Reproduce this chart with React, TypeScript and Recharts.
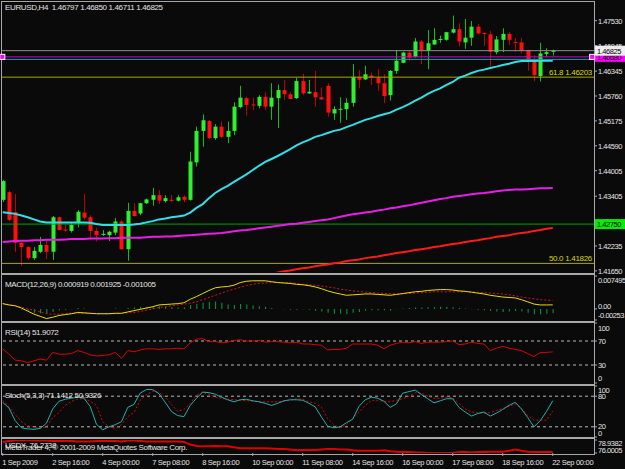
import React from 'react';
import { ComposedChart, Bar, Line, XAxis, YAxis, ReferenceLine, ReferenceDot } from 'recharts';

// ---------- DATA ----------
const barIndex = Array.from({ length: 89 }, (_, i) => i);

const opens = [
  1.4332, 1.4350, 1.4303, 1.4231, 1.4221, 1.4195, 1.4210, 1.4226, 1.4210, 1.4291,
  1.4262, 1.4259, 1.4277, 1.4302, 1.4291, 1.4259, 1.4251, 1.4249, 1.4255, 1.4281,
  1.4216, 1.4306, 1.4300, 1.4324, 1.4332, 1.4343, 1.4329, 1.4332, 1.4330, 1.4339,
  1.4332, 1.4420, 1.4494, 1.4517, 1.4477, 1.4504, 1.4480, 1.4494, 1.4550, 1.4571,
  1.4556, 1.4553, 1.4574, 1.4551, 1.4571, 1.4590, 1.4580, 1.4571, 1.4611, 1.4582,
  1.4585, 1.4573, 1.4600, 1.4535, 1.4545, 1.4545, 1.4560, 1.4621, 1.4615, 1.4624,
  1.4619, 1.4606, 1.4578, 1.4635, 1.4654, 1.4678, 1.4668, 1.4704, 1.4682, 1.4697,
  1.4708, 1.4708, 1.4725, 1.4733, 1.4702, 1.4713, 1.4739, 1.4724, 1.4721, 1.4679,
  1.4708, 1.4722, 1.4703, 1.4702, 1.4684, 1.4662, 1.4623, 1.4675, 1.46797,
];
const highs = [
  1.4379, 1.4353, 1.4346, 1.4233, 1.4224, 1.4221, 1.4245, 1.4240, 1.4294, 1.4293,
  1.4273, 1.4278, 1.4308, 1.4346, 1.4296, 1.4266, 1.4261, 1.4259, 1.4289, 1.4285,
  1.4325, 1.4324, 1.4325, 1.4335, 1.4360, 1.4355, 1.4343, 1.4343, 1.4343, 1.4343,
  1.4445, 1.4504, 1.4533, 1.4520, 1.4510, 1.4516, 1.4516, 1.4561, 1.4600, 1.4574,
  1.4572, 1.4578, 1.4585, 1.4606, 1.4603, 1.4614, 1.4585, 1.4619, 1.4628, 1.4614,
  1.4635, 1.4596, 1.4606, 1.4552, 1.4573, 1.4571, 1.4651, 1.4637, 1.4647, 1.4631,
  1.4639, 1.4627, 1.4637, 1.4684, 1.4680, 1.4682, 1.4712, 1.4708, 1.4731, 1.4735,
  1.4718, 1.4727, 1.4765, 1.4747, 1.4757, 1.4752, 1.4745, 1.4726, 1.4729, 1.4717,
  1.4735, 1.4726, 1.4712, 1.4712, 1.4685, 1.4672, 1.4701, 1.4688, 1.46850,
];
const lows = [
  1.4327, 1.4282, 1.4209, 1.4177, 1.4191, 1.4191, 1.4207, 1.4193, 1.4191, 1.4260,
  1.4257, 1.4255, 1.4267, 1.4285, 1.4238, 1.4234, 1.4247, 1.4235, 1.4249, 1.4214,
  1.4189, 1.4293, 1.4296, 1.4322, 1.4318, 1.4322, 1.4326, 1.4326, 1.4328, 1.4326,
  1.4330, 1.4410, 1.4457, 1.4475, 1.4473, 1.4477, 1.4465, 1.4484, 1.4547, 1.4530,
  1.4543, 1.4547, 1.4543, 1.4520, 1.4501, 1.4567, 1.4568, 1.4569, 1.4578, 1.4581,
  1.4551, 1.4567, 1.4527, 1.4520, 1.4513, 1.4520, 1.4551, 1.4594, 1.4614, 1.4602,
  1.4588, 1.4559, 1.4565, 1.4628, 1.4653, 1.4659, 1.4666, 1.4651, 1.4639, 1.4696,
  1.4701, 1.4706, 1.4723, 1.4692, 1.4687, 1.4694, 1.4721, 1.4694, 1.4645, 1.4674,
  1.4679, 1.4696, 1.4680, 1.4676, 1.4635, 1.4611, 1.4610, 1.4668, 1.46711,
];
const closes = [
  1.4376, 1.4285, 1.4231, 1.4221, 1.4195, 1.4212, 1.4226, 1.4210, 1.4291, 1.4261,
  1.4260, 1.4273, 1.4304, 1.4290, 1.4259, 1.4249, 1.4252, 1.4257, 1.4281, 1.4216,
  1.4306, 1.4294, 1.4324, 1.4333, 1.4343, 1.4330, 1.4336, 1.4331, 1.4338, 1.4332,
  1.4422, 1.4494, 1.4519, 1.4477, 1.4504, 1.4480, 1.4494, 1.4551, 1.4572, 1.4555,
  1.4554, 1.4574, 1.4551, 1.4572, 1.4590, 1.4580, 1.4569, 1.4611, 1.4582, 1.4586,
  1.4573, 1.4568, 1.4537, 1.4545, 1.4546, 1.4560, 1.4621, 1.4614, 1.4627, 1.4620,
  1.4606, 1.4576, 1.4635, 1.4659, 1.4678, 1.4666, 1.4704, 1.4682, 1.4700, 1.4708,
  1.4710, 1.4726, 1.4733, 1.4704, 1.4713, 1.4739, 1.4723, 1.4722, 1.4680, 1.4709,
  1.4722, 1.4708, 1.4701, 1.4682, 1.4661, 1.4625, 1.4676, 1.4679, 1.46825,
];
const maFast = [
  1.4303, 1.4301, 1.4299, 1.4295, 1.4291, 1.4286, 1.4281, 1.4279, 1.4279, 1.4279,
  1.4279, 1.4279, 1.4279, 1.4279, 1.4278, 1.4275, 1.4273, 1.4273, 1.4273, 1.4273,
  1.4273, 1.4274, 1.4276, 1.4279, 1.4282, 1.4286, 1.4288, 1.4291, 1.4293, 1.4295,
  1.4302, 1.4313, 1.4322, 1.4336, 1.4348, 1.4357, 1.4365, 1.4374, 1.4383, 1.4392,
  1.4402, 1.4412, 1.4421, 1.4428, 1.4435, 1.4443, 1.4451, 1.4460, 1.4467, 1.4473,
  1.4480, 1.4484, 1.4489, 1.4494, 1.4497, 1.4503, 1.4508, 1.4514, 1.4520, 1.4524,
  1.4529, 1.4533, 1.4537, 1.4544, 1.4550, 1.4557, 1.4565, 1.4572, 1.4581, 1.4588,
  1.4594, 1.4602, 1.4609, 1.4619, 1.4624, 1.4630, 1.4635, 1.4638, 1.4642, 1.4645,
  1.4649, 1.4652, 1.4656, 1.4658, 1.4658, 1.4658, 1.4659, 1.4659, 1.4659,
];
const maMid = [
  1.4233, 1.4234, 1.4235, 1.4236, 1.4236, 1.4237, 1.4237, 1.4238, 1.4238, 1.4238,
  1.4239, 1.4240, 1.4240, 1.4240, 1.4241, 1.4241, 1.4241, 1.4242, 1.4242, 1.4243,
  1.4243, 1.4243, 1.4243, 1.4244, 1.4245, 1.4245, 1.4246, 1.4246, 1.4247, 1.4248,
  1.4249, 1.4250, 1.4251, 1.4252, 1.4253, 1.4254, 1.4256, 1.4258, 1.4260, 1.4261,
  1.4263, 1.4265, 1.4267, 1.4269, 1.4271, 1.4273, 1.4275, 1.4276, 1.4278, 1.4280,
  1.4282, 1.4284, 1.4286, 1.4289, 1.4292, 1.4295, 1.4298, 1.4300, 1.4302, 1.4304,
  1.4307, 1.4309, 1.4312, 1.4314, 1.4317, 1.4319, 1.4322, 1.4325, 1.4328, 1.4331,
  1.4334, 1.4336, 1.4339, 1.4341, 1.4343, 1.4345, 1.4347, 1.4348, 1.4350, 1.4352,
  1.4354, 1.4355, 1.4356, 1.4356, 1.4357, 1.4358, 1.4359, 1.4359, 1.4360,
];
const maSlow = [
  null, null, null, null, null, null, null, null, null, null,
  null, null, null, null, null, null, null, null, null, null,
  null, null, null, null, null, null, null, null, null, null,
  null, null, null, null, null, null, null, null, null, null,
  1.4152, 1.4154, 1.4157, 1.4159, 1.4161, 1.4164, 1.4166, 1.4169, 1.4171, 1.4173,
  1.4176, 1.4178, 1.4180, 1.4183, 1.4185, 1.4188, 1.4190, 1.4192, 1.4195, 1.4197,
  1.4199, 1.4202, 1.4204, 1.4207, 1.4209, 1.4211, 1.4214, 1.4216, 1.4218, 1.4221,
  1.4223, 1.4226, 1.4228, 1.4230, 1.4233, 1.4235, 1.4237, 1.4240, 1.4242, 1.4245,
  1.4247, 1.4249, 1.4252, 1.4254, 1.4256, 1.4259, 1.4261, 1.4264, 1.4266,
];
const macdMain = [
  0.0012, 0.0009, 0.0007, 0.0002, -0.0005, -0.0012, -0.0017, -0.0022, -0.0019, -0.0015,
  -0.0013, -0.0011, -0.0008, -0.0009, -0.0010, -0.0011, -0.0011, -0.0011, -0.0010, -0.0010,
  -0.0007, -0.0004, -0.0001, 0.0002, 0.0005, 0.0009, 0.0010, 0.0011, 0.0012, 0.0014,
  0.0022, 0.0028, 0.0035, 0.0042, 0.0048, 0.0050, 0.0051, 0.0054, 0.0060, 0.0063,
  0.0064, 0.0064, 0.0064, 0.0062, 0.0060, 0.0059, 0.0058, 0.0056, 0.0055, 0.0053,
  0.0050, 0.0046, 0.0041, 0.0037, 0.0034, 0.0031, 0.0032, 0.0033, 0.0034, 0.0034,
  0.0033, 0.0032, 0.0031, 0.0033, 0.0035, 0.0037, 0.0039, 0.0040, 0.0042, 0.0043,
  0.0044, 0.0044, 0.0043, 0.0041, 0.0040, 0.0038, 0.0036, 0.0034, 0.0031, 0.0029,
  0.0027, 0.0026, 0.0025, 0.0021, 0.0016, 0.0011, 0.0009, 0.0009, 0.000919,
];
const macdSignal = [
  0.0012, 0.0010, 0.0007, 0.0004, 0.0000, -0.0003, -0.0007, -0.0011, -0.0012, -0.0012,
  -0.0011, -0.0010, -0.0010, -0.0010, -0.0010, -0.0011, -0.0011, -0.0011, -0.0011, -0.0010,
  -0.0009, -0.0008, -0.0006, -0.0003, 0.0000, 0.0003, 0.0005, 0.0007, 0.0009, 0.0011,
  0.0013, 0.0016, 0.0021, 0.0026, 0.0031, 0.0036, 0.0041, 0.0045, 0.0049, 0.0053,
  0.0056, 0.0058, 0.0059, 0.0060, 0.0060, 0.0060, 0.0060, 0.0058, 0.0056, 0.0055,
  0.0054, 0.0052, 0.0050, 0.0048, 0.0045, 0.0043, 0.0041, 0.0040, 0.0038, 0.0037,
  0.0036, 0.0035, 0.0035, 0.0034, 0.0034, 0.0035, 0.0036, 0.0037, 0.0038, 0.0039,
  0.0039, 0.0039, 0.0039, 0.0039, 0.0039, 0.0039, 0.0038, 0.0037, 0.0036, 0.0035,
  0.0034, 0.0032, 0.0030, 0.0027, 0.0025, 0.0023, 0.0021, 0.0020, 0.001925,
];
const macdHist = [
  0.0000, -0.0001, 0.0000, -0.0002, -0.0005, -0.0009, -0.0010, -0.0011, -0.0007, -0.0003,
  -0.0002, -0.0001, 0.0002, 0.0001, 0.0000, 0.0000, 0.0000, 0.0000, 0.0001, 0.0000,
  0.0002, 0.0004, 0.0005, 0.0005, 0.0005, 0.0006, 0.0005, 0.0004, 0.0003, 0.0003,
  0.0009, 0.0012, 0.0014, 0.0016, 0.0017, 0.0014, 0.0010, 0.0009, 0.0011, 0.0010,
  0.0008, 0.0006, 0.0005, 0.0002, 0.0000, -0.0001, -0.0002, -0.0002, -0.0001, -0.0002,
  -0.0004, -0.0006, -0.0009, -0.0011, -0.0011, -0.0012, -0.0009, -0.0007, -0.0004, -0.0003,
  -0.0003, -0.0003, -0.0004, -0.0001, 0.0001, 0.0002, 0.0003, 0.0003, 0.0004, 0.0004,
  0.0005, 0.0005, 0.0004, 0.0002, 0.0001, -0.0001, -0.0002, -0.0003, -0.0005, -0.0006,
  -0.0007, -0.0006, -0.0005, -0.0006, -0.0009, -0.0012, -0.0012, -0.0011, -0.001005,
];
const rsi = [
  57, 48, 38, 37, 34, 37, 40, 38, 51, 48,
  48, 49, 54, 51, 47, 45, 46, 47, 51, 41,
  54, 52, 55, 57, 57, 56, 57, 57, 58, 57,
  67, 73, 74, 69, 69, 67, 68, 71, 72, 70,
  70, 71, 68, 69, 69, 68, 67, 68, 65, 65,
  64, 63, 55, 56, 56, 58, 65, 65, 65, 65,
  63, 57, 63, 66, 68, 67, 69, 66, 68, 68,
  68, 69, 70, 64, 65, 68, 66, 65, 54, 58,
  61, 58, 56, 54, 49, 44, 51, 51, 51.9,
];
const stochMain = [
  68, 57, 32, 18, 16, 15, 17, 27, 55, 70,
  74, 76, 78, 76, 60, 25, 14, 20, 24, 30,
  58, 64, 86, 93, 93, 85, 68, 50, 42, 40,
  62, 76, 88, 87, 84, 78, 73, 69, 73, 74,
  71, 69, 66, 62, 66, 71, 73, 73, 72, 66,
  59, 39, 21, 18, 20, 28, 35, 60, 73, 78,
  76, 70, 58, 65, 86, 89, 92, 83, 75, 67,
  71, 75, 75, 58, 49, 41, 46, 49, 41, 47,
  54, 62, 68, 55, 38, 20, 32, 50, 71.1,
];
const stochSignal = [
  72, 60, 44, 30, 22, 19, 17, 20, 38, 48,
  62, 70, 74, 75, 70, 62, 30, 20, 17, 24,
  40, 48, 72, 83, 90, 87, 78, 64, 50, 54,
  66, 82, 88, 84, 78, 76, 74, 73, 72, 71,
  70, 69, 69, 69, 69, 70, 72, 75, 74, 69,
  66, 58, 36, 24, 18, 24, 36, 48, 62, 72,
  71, 70, 69, 72, 75, 80, 87, 86, 80, 76,
  76, 78, 77, 66, 55, 49, 48, 46, 48, 52,
  56, 60, 65, 56, 42, 33, 33, 33, 50.9,
];
const dollarIndex = [
  78.5, 78.7, 78.8, 78.9, 78.9, 78.8, 78.8, 78.8, 78.7, 78.7,
  78.7, 78.7, 78.6, 78.6, 78.6, 78.7, 78.7, 78.7, 78.7, 78.6,
  78.8, 78.8, 78.7, 78.6, 78.6, 78.6, 78.6, 78.6, 78.6, 78.5,
  77.9, 77.6, 77.5, 77.5, 77.6, 77.5, 77.5, 77.3, 77.1, 77.1,
  77.1, 77.1, 77.1, 77.0, 76.9, 76.9, 76.8, 76.6, 76.7, 76.7,
  76.7, 76.8, 76.9, 76.9, 76.8, 76.8, 76.6, 76.5, 76.5, 76.5,
  76.5, 76.6, 76.4, 76.3, 76.2, 76.2, 76.1, 76.1, 76.0, 76.0,
  76.0, 76.0, 76.0, 76.2, 76.2, 76.1, 76.2, 76.2, 76.3, 76.3,
  76.3, 76.5, 76.8, 76.5, 76.3, 76.2, 76.2, 76.2, 76.2,
];

const dateTickBars = [0, 8, 16, 24, 32, 40, 48, 56, 64, 72, 80, 88];
const dateLabels = [
  '1 Sep 2009', '2 Sep 16:00', '4 Sep 00:00', '7 Sep 08:00', '8 Sep 16:00', '10 Sep 00:00',
  '11 Sep 08:00', '14 Sep 16:00', '16 Sep 00:00', '17 Sep 08:00', '18 Sep 16:00', '22 Sep 00:00',
];
const priceTicks = [1.4753, 1.46945, 1.46345, 1.4576, 1.45175, 1.4459, 1.44005, 1.43405, 1.42235, 1.4165];
const macdTicks = [0.007495, 0, -0.00253];
const macdTickLabels = ['0.007495', '0.00', '-0.00253'];
const rsiTicks = [100, 70, 30, 0];
const stochTicks = [100, 80, 20, 0];
const idxTicks = [78.9382, 76.0005];
const idxTickLabels = ['78.9382', '76.0005'];

const bidPrice = 1.46825;
const magentaLevel = 1.4668;
const cyanLevel = 1.4662;
const greenLevel = 1.4275;
const fib618 = 1.46203;
const fib500 = 1.41826;

// ---------- BUILD ----------
const rows = barIndex.map((i) => ({
  i,
  o: opens[i], h: highs[i], l: lows[i], c: closes[i],
  range: [lows[i], highs[i]],
  maFast: maFast[i], maMid: maMid[i], maSlow: maSlow[i],
  macd: macdMain[i], signal: macdSignal[i], hist: macdHist[i],
  rsi: rsi[i], k: stochMain[i], d: stochSignal[i], idx: dollarIndex[i],
}));

const XDOM: [number, number] = [-0.112, 94.6];
const CW = 623;
const YW = 31;
const TXT = '#e4e4e4';
const FONT = '"Liberation Sans", Arial, sans-serif';
const BG = '#0a0a0a';
const AXF = 7.5;
const AXLS = -0.45;

const Candle = (props: any) => {
  const { x, y, width, height, payload } = props;
  if (x == null || y == null) return null;
  const top = Math.min(y, y + height);
  const bottom = Math.max(y, y + height);
  const span = payload.h - payload.l;
  const k = span > 0 ? (bottom - top) / span : 0;
  const py = (p: number) => top + (payload.h - p) * k;
  const up = payload.c >= payload.o;
  const cx = Math.round(x + width / 2) + 0.5;
  const bTop = py(Math.max(payload.o, payload.c));
  const bBot = py(Math.min(payload.o, payload.c));
  const body = up ? '#2ef02e' : '#ff1010';
  const wick = up ? '#10c010' : '#c00000';
  return (
    <g>
      <line x1={cx} x2={cx} y1={top} y2={bottom} stroke={wick} strokeWidth={1} />
      <rect x={cx - 2} y={bTop} width={4} height={Math.max(1, bBot - bTop)} fill={body} />
    </g>
  );
};

const makeYTick = (fmt: (v: number) => string, shift: (v: number) => number) => (props: any) => {
  const { x, y, payload } = props;
  const v = payload.value;
  return (
    <text x={x - 1} y={y + shift(v)} dy={3} fill={TXT} fontSize={AXF} letterSpacing={AXLS} textAnchor="start">
      {fmt(v)}
    </text>
  );
};

const DateTick = (props: any) => {
  const { x, y, payload } = props;
  const k = dateTickBars.indexOf(payload.value);
  return (
    <g>
      <line x1={x} x2={x} y1={y - 5} y2={y - 2} stroke="#a0a0a0" />
      <text x={x - 0.5} y={y + 7} fill={TXT} fontSize={AXF} letterSpacing={-0.3} textAnchor="start">
        {dateLabels[k]}
      </text>
    </g>
  );
};

const priceTag = (text: string, bg: string, fg: string) => (props: any) => {
  const vb = props.viewBox || {};
  const x = (vb.x || 0) + (vb.width || 0) + 1;
  const y = vb.y || 0;
  return (
    <g>
      <rect x={x} y={y - 5} width={30} height={10} fill={bg} />
      <text x={x + 2} y={y + 3} fill={fg} fontSize={AXF} letterSpacing={AXLS}>{text}</text>
    </g>
  );
};

const fibLabel = (text: string) => (props: any) => {
  const vb = props.viewBox || {};
  return (
    <text x={(vb.x || 0) + (vb.width || 0) - 2} y={(vb.y || 0) - 2} fill="#d8d800" fontSize={8} textAnchor="end" letterSpacing={-0.3}>
      {text}
    </text>
  );
};

const squareMarker = (color: string) => (p: any) => (
  <rect x={p.cx - 2.5} y={p.cy - 2.5} width={5} height={5} fill={color} stroke="#ffffff" strokeWidth={1} />
);

const Panel = ({ top, height }: { top: number; height: number }) => (
  <div style={{ position: 'absolute', left: 1, top, width: 594, height, boxSizing: 'border-box', border: '1px solid #a8a8a8' }} />
);

const Label = ({ top, left = 5, children, color = TXT }: any) => (
  <div style={{ position: 'absolute', left, top, fontSize: 8, lineHeight: '10px', color, whiteSpace: 'pre', letterSpacing: -0.35 }}>{children}</div>
);

const mainTick = makeYTick((v) => v.toFixed(5), () => 0);
const macdTick = makeYTick((v) => macdTickLabels[macdTicks.indexOf(v)], (v) => (v > 0.005 ? 4 : v < 0 ? -5 : -2.5));
const rsiTick = makeYTick((v) => String(v), (v) => (v === 100 ? 5 : v === 0 ? -5 : 0));
const stochTick = makeYTick((v) => String(v), (v) => (v === 100 ? 4 : v === 0 ? -4 : v === 20 ? -1 : 0));
const idxTick = makeYTick((v) => idxTickLabels[idxTicks.indexOf(v)], (v) => (v > 78 ? 3 : -3));

const margin = { top: 0, right: 0, bottom: 0, left: 0 };

export default function App() {
  return (
    <div style={{ position: 'absolute', left: 0, top: 0, width: 625, height: 469, background: BG, fontFamily: FONT, overflow: 'hidden' }}>
      <style>{'.recharts-surface{overflow:visible}'}</style>
      <Panel top={1} height={273} />
      <Panel top={274} height={48} />
      <Panel top={322} height={63} />
      <Panel top={385} height={53} />
      <Panel top={438} height={17} />

      {/* MAIN */}
      <div style={{ position: 'absolute', left: 2, top: 2 }}>
        <ComposedChart width={CW} height={270} data={rows} margin={margin}>
          <XAxis dataKey="i" type="number" domain={XDOM} hide allowDataOverflow />
          <YAxis orientation="right" width={YW} domain={[1.41624, 1.47969]} allowDataOverflow ticks={priceTicks} interval={0}
            tick={mainTick} tickSize={3} tickLine={{ stroke: '#a8a8a8' }} axisLine={false} />
          <ReferenceLine y={fib618} stroke="#a8a800" strokeWidth={1} label={fibLabel('61.8  1.46203')} />
          <ReferenceLine y={fib500} stroke="#a8a800" strokeWidth={1} label={fibLabel('50.0  1.41826')} />
          <ReferenceLine y={greenLevel} stroke="#00a000" strokeWidth={1} label={priceTag('1.42750', '#00ee00', '#000000')} />
          <Line dataKey="maSlow" stroke="#ff1a1a" strokeWidth={2} dot={false} isAnimationActive={false} connectNulls={false} />
          <Line dataKey="maMid" stroke="#e81ee8" strokeWidth={2} dot={false} isAnimationActive={false} />
          <Bar dataKey="range" barSize={4} shape={Candle} isAnimationActive={false} />
          <Line dataKey="maFast" stroke="#2ee0e8" strokeWidth={2} dot={false} isAnimationActive={false} />
          <ReferenceLine y={cyanLevel} stroke="#00a8a8" strokeWidth={1} />
          <ReferenceLine y={magentaLevel} stroke="#d000d0" strokeWidth={1} label={priceTag('1.46680', '#ff00ff', '#000000')} />
          <ReferenceLine y={bidPrice} stroke="#909090" strokeWidth={1} label={priceTag('1.46825', '#f0f0f0', '#000000')} />
          <ReferenceDot x={XDOM[0] + 0.05} y={magentaLevel} r={2} ifOverflow="visible" shape={squareMarker('#ff00ff')} />
          <ReferenceDot x={XDOM[1] - 0.3} y={magentaLevel} r={2} ifOverflow="visible" shape={squareMarker('#ff00ff')} />
        </ComposedChart>
      </div>

      {/* MACD */}
      <div style={{ position: 'absolute', left: 2, top: 276 }}>
        <ComposedChart width={CW} height={44} data={rows} margin={margin}>
          <XAxis dataKey="i" type="number" domain={XDOM} hide allowDataOverflow />
          <YAxis orientation="right" width={YW} domain={[-0.00253, 0.007495]} allowDataOverflow ticks={macdTicks} interval={0}
            tick={macdTick} tickSize={3} tickLine={{ stroke: '#a8a8a8' }} axisLine={false} />
          <Bar dataKey="hist" barSize={1} fill="#00a040" isAnimationActive={false} />
          <Line dataKey="signal" stroke="#e01010" strokeWidth={1} strokeDasharray="2 2" dot={false} isAnimationActive={false} />
          <Line dataKey="macd" stroke="#e8e000" strokeWidth={1} dot={false} isAnimationActive={false} />
        </ComposedChart>
      </div>

      {/* RSI */}
      <div style={{ position: 'absolute', left: 2, top: 323 }}>
        <ComposedChart width={CW} height={60} data={rows} margin={margin}>
          <XAxis dataKey="i" type="number" domain={XDOM} hide allowDataOverflow />
          <YAxis orientation="right" width={YW} domain={[0, 100]} ticks={rsiTicks} interval={0}
            tick={rsiTick} tickSize={3} tickLine={{ stroke: '#a8a8a8' }} axisLine={false} />
          <ReferenceLine y={70} stroke="#b8b8b8" strokeDasharray="3 3" />
          <ReferenceLine y={30} stroke="#b8b8b8" strokeDasharray="3 3" />
          <Line dataKey="rsi" stroke="#e00000" strokeWidth={1} dot={false} isAnimationActive={false} />
        </ComposedChart>
      </div>

      {/* STOCH */}
      <div style={{ position: 'absolute', left: 2, top: 386 }}>
        <ComposedChart width={CW} height={51} data={rows} margin={margin}>
          <XAxis dataKey="i" type="number" domain={XDOM} hide allowDataOverflow />
          <YAxis orientation="right" width={YW} domain={[0, 100]} ticks={stochTicks} interval={0}
            tick={stochTick} tickSize={3} tickLine={{ stroke: '#a8a8a8' }} axisLine={false} />
          <ReferenceLine y={80} stroke="#b8b8b8" strokeDasharray="3 3" />
          <ReferenceLine y={20} stroke="#b8b8b8" strokeDasharray="3 3" />
          <Line dataKey="d" stroke="#e00000" strokeWidth={1} strokeDasharray="2 2" dot={false} isAnimationActive={false} />
          <Line dataKey="k" stroke="#20b0b0" strokeWidth={1} dot={false} isAnimationActive={false} />
        </ComposedChart>
      </div>

      {/* INDEX + DATES */}
      <div style={{ position: 'absolute', left: 2, top: 440 }}>
        <ComposedChart width={CW} height={29} data={rows} margin={margin}>
          <XAxis dataKey="i" type="number" domain={XDOM} allowDataOverflow ticks={dateTickBars} interval={0}
            tick={DateTick} tickSize={3} tickLine={false} axisLine={false} height={16} />
          <YAxis orientation="right" width={YW} domain={[76.0005, 78.9382]} allowDataOverflow ticks={idxTicks} interval={0}
            tick={idxTick} tickSize={3} tickLine={{ stroke: '#a8a8a8' }} axisLine={false} />
          <Line dataKey="idx" stroke="#e00000" strokeWidth={2} dot={false} isAnimationActive={false} />
        </ComposedChart>
      </div>

      <Label top={3}>{'EURUSD,H4  1.46797 1.46850 1.46711 1.46825'}</Label>
      <Label top={280}>{'MACD(12,26,9) 0.000919 0.001925 -0.001005'}</Label>
      <Label top={328}>{'RSI(14) 51.9072'}</Label>
      <Label top={391}>{'Stoch(5,3,3) 71.1412 50.9326'}</Label>
      <Label top={441}>{'USDX  76.2738'}</Label>
      <Label top={443}>{'MetaTrader 4, © 2001-2009 MetaQuotes Software Corp.'}</Label>
    </div>
  );
}
